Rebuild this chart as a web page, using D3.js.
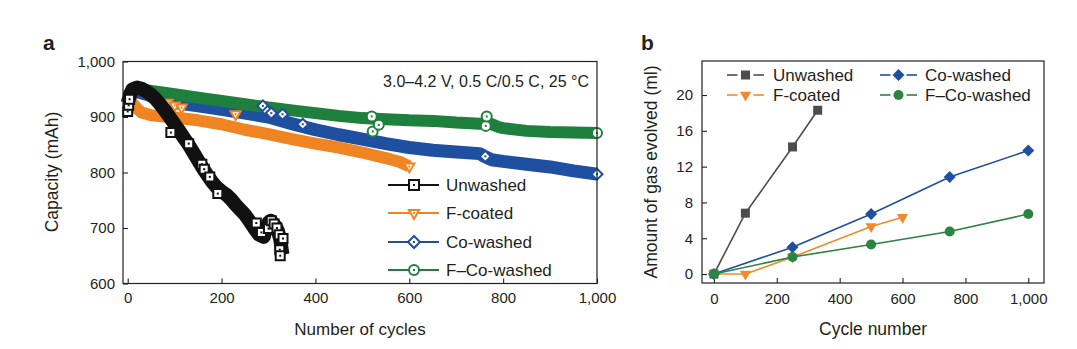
<!DOCTYPE html>
<html>
<head>
<meta charset="utf-8">
<script src="https://cdn.jsdelivr.net/npm/d3@7"></script>
<style>
  body { margin: 0; background: #fff; }
  svg text { font-family: "Liberation Sans", Arial, sans-serif; fill: #231f20; }
</style>
</head>
<body>
<svg id="chart" width="1077" height="349"></svg>
<script>
// ---- panel a : capacity vs cycles ----
var unwashedCycles = [0, 5, 10, 20, 30, 40, 50, 60, 70, 80, 90, 100, 110, 120, 130, 140, 150, 160, 170, 180, 190, 200, 210, 220, 230, 240, 250, 260, 270, 280, 290, 295, 300, 305, 310, 315, 320, 325, 328, 330];
var unwashedCap    = [925, 940, 950, 953, 951, 946, 940, 932, 922, 911, 899, 887, 875, 862, 850, 836, 822, 808, 795, 783, 773, 766, 760, 752, 742, 733, 724, 712, 699, 688, 684, 700, 710, 713, 708, 703, 695, 680, 662, 652];
var unwashedMarks  = [[0, 910], [2, 921], [4, 932], [92, 872], [130, 852], [158, 815], [163, 806], [175, 792], [192, 762], [274, 709], [285, 692], [300, 699], [306, 713], [312, 707], [318, 700], [323, 688], [324, 661], [325, 650], [331, 681]];

var fcoatCycles = [0, 10, 20, 30, 50, 100, 150, 200, 250, 300, 350, 400, 450, 500, 550, 580, 600];
var fcoatCap    = [932, 925, 915, 908, 903, 899, 894, 887, 877, 869, 860, 852, 845, 836, 826, 819, 811];
var fcoatMarks  = [[85, 926], [100, 921], [115, 917], [230, 905], [600, 811]];

var cowashCycles = [0, 20, 50, 100, 150, 200, 250, 300, 350, 400, 450, 500, 550, 600, 650, 700, 750, 760, 775, 800, 850, 900, 950, 1000];
var cowashCap    = [938, 946, 938, 926, 920, 914, 907, 900, 888, 877, 868, 860, 852, 845, 840, 837, 834, 829, 823, 820, 815, 810, 803, 797];
var cowashMarks  = [[288, 920], [298, 910], [306, 907], [330, 905], [373, 887], [762, 829], [1000, 797]];

var fcowashCycles = [0, 10, 20, 50, 100, 150, 200, 250, 300, 350, 400, 450, 500, 550, 600, 650, 700, 750, 770, 790, 800, 850, 900, 950, 1000];
var fcowashCap    = [938, 950, 951, 947, 941, 935, 929, 923, 917, 912, 907, 902, 898, 896, 894, 893, 890, 888, 889, 882, 880, 875, 873, 872, 871];
var fcowashMarks  = [[520, 901], [522, 874], [535, 886], [763, 884], [765, 901], [1000, 871]];

var capTicks = [600, 700, 800, 900, 1000];
var cycleTicks = [0, 200, 400, 600, 800, 1000];

// ---- panel b : gas evolved ----
var gasUnwashedX = [0, 100, 250, 330];
var gasUnwashedY = [0, 6.8, 14.2, 18.3];
var gasFcoatX = [0, 100, 250, 500, 600];
var gasFcoatY = [0, 0, 1.9, 5.3, 6.35];
var gasCowashX = [0, 250, 500, 750, 1000];
var gasCowashY = [0, 3.0, 6.7, 10.85, 13.8];
var gasFcowashX = [0, 250, 500, 750, 1000];
var gasFcowashY = [0, 1.9, 3.3, 4.75, 6.7];
var gasTicks = [0, 4, 8, 12, 16, 20];

var names = ["Unwashed", "F-coated", "Co-washed", "F\u2013Co-washed"];
var colA = ["#111111", "#f18422", "#1f4fa0", "#1f7f3c"];
var colB = ["#4d4d4d", "#f08a2a", "#1f4fa0", "#2b8442"];

var svg = d3.select("#chart");

function zip(xs, ys) { return xs.map(function(x, i) { return [x, ys[i]]; }); }

// marker path by kind, centred at 0,0
function markerPath(kind, s) {
	if (kind == "square") return d3.symbol().type(d3.symbolSquare).size(s * s)();
	if (kind == "circle") return d3.symbol().type(d3.symbolCircle).size(Math.PI * s * s / 4)();
	if (kind == "diamond") return d3.symbol().type(d3.symbolSquare).size(s * s / 2)();
	return d3.symbol().type(d3.symbolTriangle).size(s * s * 0.45)();
}
function markerRot(kind) {
	if (kind == "diamond") return 45;
	if (kind == "triangle") return 180;
	return 0;
}
var kinds = ["square", "triangle", "diamond", "circle"];

function hollowMarker(g, kind, x, y, col, s) {
	var m = g.append("g").attr("transform", "translate(" + x + "," + y + ")");
	m.append("path")
		.attr("d", markerPath(kind, s))
		.attr("transform", "rotate(" + markerRot(kind) + ")")
		.attr("fill", "#fff")
		.attr("stroke", col)
		.attr("stroke-width", 2);
	m.append("rect").attr("x", -1).attr("y", -1).attr("width", 2).attr("height", 2).attr("fill", col);
}
function solidMarker(g, kind, x, y, col, s) {
	g.append("path")
		.attr("d", markerPath(kind, s))
		.attr("transform", "translate(" + x + "," + y + ") rotate(" + markerRot(kind) + ")")
		.attr("fill", col);
}

// ================= PANEL A =================
var ax = d3.scaleLinear().domain([-10, 1000]).range([123, 597]);
var ay = d3.scaleLinear().domain([600, 1000]).range([283.5, 61.5]);

var ga = svg.append("g");

var xAxisA = d3.axisBottom(ax).tickValues(cycleTicks).tickSizeInner(-5).tickSizeOuter(0).tickPadding(9).tickFormat(d3.format(","));
var yAxisA = d3.axisLeft(ay).tickValues(capTicks).tickSizeInner(-5).tickSizeOuter(0).tickPadding(8).tickFormat(d3.format(","));

ga.append("g").attr("transform", "translate(0,283.5)").call(xAxisA);
ga.append("g").attr("transform", "translate(123,0)").call(yAxisA);

var bandLine = d3.line().x(function(d){ return ax(d[0]); }).y(function(d){ return ay(d[1]); });

var bands = [
	{ data: zip(cowashCycles, cowashCap), col: colA[2], w: 13 },
	{ data: zip(fcoatCycles, fcoatCap), col: colA[1], w: 12 },
	{ data: zip(fcowashCycles, fcowashCap), col: colA[3], w: 12 }
];
bands.forEach(function(b) {
	ga.append("path")
		.attr("d", bandLine(b.data))
		.attr("fill", "none")
		.attr("stroke", b.col)
		.attr("stroke-width", b.w)
		.attr("stroke-linejoin", "round")
		.attr("stroke-linecap", "butt");
});

fcoatMarks.forEach(function(p){ hollowMarker(ga, "triangle", ax(p[0]), ay(p[1]), colA[1], 10); });
cowashMarks.forEach(function(p){ hollowMarker(ga, "diamond", ax(p[0]), ay(p[1]), colA[2], 11); });
fcowashMarks.forEach(function(p){ hollowMarker(ga, "circle", ax(p[0]), ay(p[1]), colA[3], 10); });

// unwashed on top
ga.append("path")
	.attr("d", bandLine(zip(unwashedCycles, unwashedCap)))
	.attr("fill", "none")
	.attr("stroke", colA[0])
	.attr("stroke-width", 14)
	.attr("stroke-linejoin", "round")
	.attr("stroke-linecap", "butt");
unwashedMarks.forEach(function(p){ hollowMarker(ga, "square", ax(p[0]), ay(p[1]), colA[0], 9); });

ga.selectAll(".domain").remove();
ga.selectAll(".tick line").attr("stroke", "#231f20").attr("stroke-width", 1.1);
ga.selectAll(".tick text").attr("font-size", 15).attr("fill", "#231f20");

ga.append("rect")
	.attr("x", 123).attr("y", 61.5).attr("width", 474).attr("height", 222)
	.attr("fill", "none").attr("stroke", "#231f20").attr("stroke-width", 1.2);

ga.append("text").attr("x", 589).attr("y", 87).attr("text-anchor", "end").attr("font-size", 16)
	.text("3.0\u20134.2 V, 0.5 C/0.5 C, 25 \u00b0C");

// legend a
var legA = [185, 213, 242, 270];
legA.forEach(function(yy, i) {
	ga.append("line").attr("x1", 388).attr("x2", 439).attr("y1", yy).attr("y2", yy)
		.attr("stroke", colA[i]).attr("stroke-width", 2);
	hollowMarker(ga, kinds[i], 414, yy, colA[i], i == 2 ? 12 : 10);
	ga.append("text").attr("x", 446).attr("y", yy + 6).attr("font-size", 17).text(names[i]);
});

ga.append("text").attr("transform", "translate(58,172) rotate(-90)")
	.attr("text-anchor", "middle").attr("font-size", 17.5).text("Capacity (mAh)");
ga.append("text").attr("x", 360).attr("y", 335).attr("text-anchor", "middle").attr("font-size", 17).text("Number of cycles");
ga.append("text").attr("x", 43).attr("y", 50).attr("font-size", 21).attr("font-weight", "bold").text("a");

// ================= PANEL B =================
var bx = d3.scaleLinear().domain([-38, 1050]).range([702, 1044]);
var by = d3.scaleLinear().domain([-1, 23.8]).range([283, 61]);

var gb = svg.append("g");

var xAxisB = d3.axisBottom(bx).tickValues(cycleTicks).tickSizeInner(-5).tickSizeOuter(0).tickPadding(10).tickFormat(d3.format(","));
var yAxisB = d3.axisLeft(by).tickValues(gasTicks).tickSizeInner(-5).tickSizeOuter(0).tickPadding(9);

gb.append("g").attr("transform", "translate(0,283)").call(xAxisB);
gb.append("g").attr("transform", "translate(702,0)").call(yAxisB);
gb.selectAll(".domain").remove();
gb.selectAll(".tick line").attr("stroke", "#231f20").attr("stroke-width", 1.1);
gb.selectAll(".tick text").attr("font-size", 15).attr("fill", "#231f20");

gb.append("rect")
	.attr("x", 702).attr("y", 61).attr("width", 342).attr("height", 222)
	.attr("fill", "none").attr("stroke", "#231f20").attr("stroke-width", 1.2);

var gasLine = d3.line().x(function(d){ return bx(d[0]); }).y(function(d){ return by(d[1]); });
var gasSeries = [
	zip(gasUnwashedX, gasUnwashedY),
	zip(gasFcoatX, gasFcoatY),
	zip(gasCowashX, gasCowashY),
	zip(gasFcowashX, gasFcowashY)
];
var sizesB = [9, 11, 12, 10];
gasSeries.forEach(function(s, i) {
	gb.append("path").attr("d", gasLine(s)).attr("fill", "none")
		.attr("stroke", colB[i]).attr("stroke-width", 1.6);
	s.forEach(function(p) { solidMarker(gb, kinds[i], bx(p[0]), by(p[1]), colB[i], sizesB[i]); });
});

// legend b
var legB = [
	{ x1: 727, mx: 745.5, tx: 773, y: 75 },
	{ x1: 727, mx: 745.5, tx: 773, y: 95 },
	{ x1: 880, mx: 898.5, tx: 925, y: 75 },
	{ x1: 880, mx: 898.5, tx: 925, y: 95 }
];
legB.forEach(function(l, i) {
	gb.append("line").attr("x1", l.x1).attr("x2", l.mx - 8).attr("y1", l.y).attr("y2", l.y).attr("stroke", colB[i]).attr("stroke-width", 1.6);
	gb.append("line").attr("x1", l.mx + 8).attr("x2", l.x1 + 37).attr("y1", l.y).attr("y2", l.y).attr("stroke", colB[i]).attr("stroke-width", 1.6);
	solidMarker(gb, kinds[i], l.mx, l.y, colB[i], sizesB[i]);
	gb.append("text").attr("x", l.tx).attr("y", l.y + 6).attr("font-size", 17).text(names[i]);
});

gb.append("text").attr("transform", "translate(657,172) rotate(-90)").attr("text-anchor", "middle")
	.attr("font-size", 17.5).text("Amount of gas evolved (ml)");
gb.append("text").attr("x", 873).attr("y", 335).attr("text-anchor", "middle").attr("font-size", 17.5).text("Cycle number");
gb.append("text").attr("x", 641).attr("y", 50).attr("font-size", 21).attr("font-weight", "bold").text("b");
</script>
</body>
</html>
